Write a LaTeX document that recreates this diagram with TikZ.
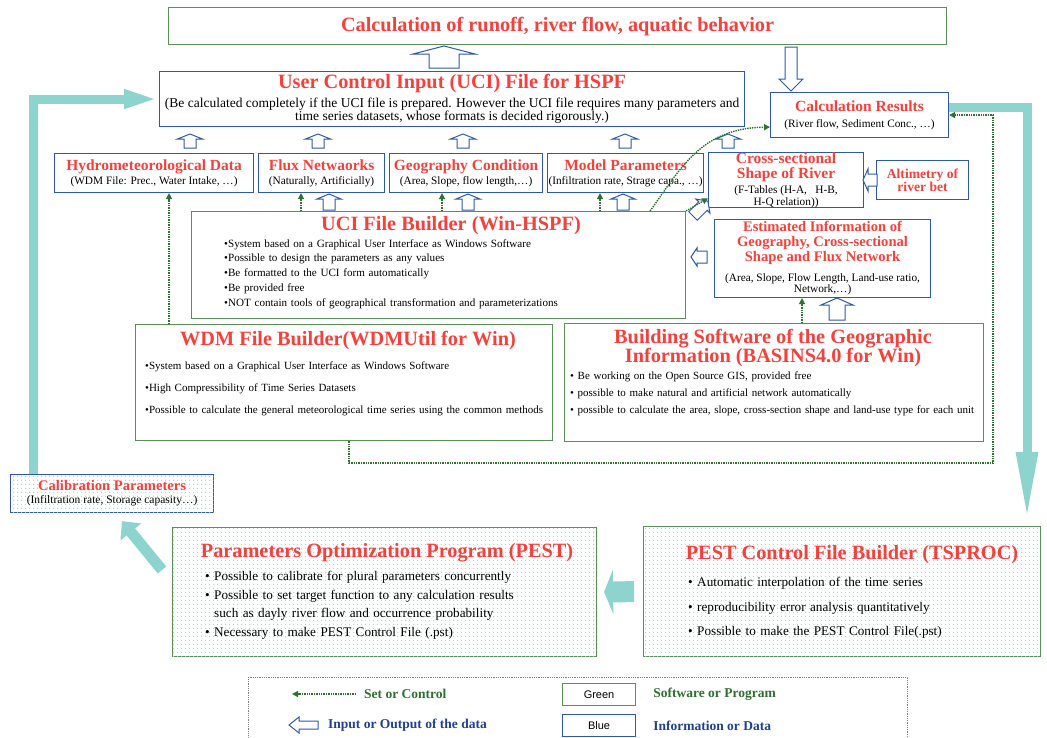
\documentclass[tikz,border=0pt]{standalone}
\usepackage{fontspec}
\setmainfont{Liberation Serif}
\newfontfamily\sansf{Liberation Sans}
\usetikzlibrary{arrows.meta,patterns,patterns.meta,positioning}

\definecolor{tred}{HTML}{F5413A}
\definecolor{bblue}{HTML}{2D5AA8}
\definecolor{bgreen}{HTML}{5A8F55}
\definecolor{dgreen}{HTML}{2E7030}
\definecolor{teal1}{HTML}{8DD4CF}
\definecolor{dotc}{HTML}{9CD8D2}
\definecolor{lblue}{HTML}{1F3F8F}

\newcommand{\ttlL}{\fontsize{20.3}{19}\selectfont\bfseries\color{tred}}
\newcommand{\ttlM}{\fontsize{15.5}{14.5}\selectfont\bfseries\color{tred}}
\newcommand{\subM}{\fontsize{13.5}{13.5}\selectfont}
\newcommand{\subS}{\fontsize{11.3}{11}\selectfont}

% hollow block arrow: tail, angle, length, shaft half, head half, head length
\newcommand{\blockarrow}[6]{%
  \draw[hollow,shift={#1},rotate=#2] (0,-#4) -- ({#3-#6},-#4) -- ({#3-#6},-#5) -- (#3,0)
    -- ({#3-#6},#5) -- ({#3-#6},#4) -- (0,#4) -- cycle;}

\tikzdeclarepattern{name=tdots, type=uncolored,
  bottom left={(0pt,0pt)}, top right={(4pt,4pt)}, tile size={(4pt,4pt)},
  code={\fill (2pt,2pt) circle (0.75pt);}}

\tikzset{
  bbox/.style={draw=bblue, line width=1.1pt, fill=white, anchor=north west, align=center, inner sep=1pt},
  gbox/.style={draw=bgreen, line width=1.1pt, fill=white, anchor=north west, align=center, inner sep=1pt},
  dotbox/.style={postaction={pattern=tdots, pattern color=dotc}},
  hollow/.style={draw=bblue, line width=1pt, fill=white, line join=miter},
  ctrl/.style={draw=dgreen, line width=1.4pt, densely dotted, -{Triangle[length=6pt,width=6pt]}},
  flow/.style={draw=teal1, line width=9pt, line join=miter},
  lst/.style={anchor=north west, align=left, inner sep=0pt, text width=470pt},
  legtxt/.style={anchor=west, inner sep=0pt, font=\fontsize{13.5}{14}\selectfont\bfseries},
}

\begin{document}
\begin{tikzpicture}[x=1pt,y=-1pt]
\useasboundingbox (0,0) rectangle (1047,737);

% top rows
\node[gbox, minimum width=778pt, minimum height=37pt] (runoff) at (168,7)
  {\ttlL Calculation of runoff, river flow, aquatic behavior};
\node[bbox, minimum width=585pt, minimum height=55pt, font=\fontsize{13.5}{13.5}\selectfont] (uci) at (159,71)
  {\ttlL User Control Input (UCI) File for HSPF\\[4pt]
   \subM (Be calculated completely if the UCI file is prepared. However the UCI file requires many parameters and\\
   \subM time series datasets, whose formats is decided rigorously.)};
\node[bbox, minimum width=178pt, minimum height=45pt] (calc) at (770,92)
  {\ttlM Calculation Results\\[4pt] \subS (River flow, Sediment Conc., …)};

\node[bbox, minimum width=199pt, minimum height=39pt] (hydro) at (54,153)
  {\ttlM Hydrometeorological Data\\[2pt] \subS (WDM File: Prec., Water Intake, …)};
\node[bbox, minimum width=126pt, minimum height=39pt] (flux) at (258,153)
  {\ttlM Flux Netwaorks\\[2pt] \subS (Naturally, Artificially)};
\node[bbox, minimum width=153pt, minimum height=39pt] (geo) at (389,153)
  {\ttlM Geography Condition\\[2pt] \subS (Area, Slope, flow length,…)};
\node[bbox, minimum width=156pt, minimum height=39pt] (model) at (547,153)
  {\ttlM Model Parameters\\[2pt] \subS (Infiltration rate, Strage capa., …)};
\node[bbox, minimum width=155pt, minimum height=54pt, inner sep=0pt, font=\fontsize{15.5}{15}\selectfont] (cross) at (708,152)
  {\ttlM Cross-sectional\\ \ttlM Shape of River\\ \subS (F-Tables (H-A,~~ H-B,\\[-3pt] \subS H-Q relation))};
\node[bbox, minimum width=92pt, minimum height=39pt] (alti) at (876,160)
  {\fontsize{13.6}{11}\selectfont\bfseries\color{tred} Altimetry of\\ \fontsize{13.6}{11}\selectfont\bfseries\color{tred} river bet};
\node[bbox, minimum width=216pt, minimum height=78pt, inner sep=0pt, font=\fontsize{14.6}{15}\selectfont] (est) at (714,219)
  {\bfseries\color{tred} Estimated Information of\\
   \bfseries\color{tred} Geography, Cross-sectional\\
   \bfseries\color{tred} Shape and Flux Network\\[5pt]
   \fontsize{11.3}{10}\selectfont (Area, Slope, Flow Length, Land-use ratio,\\[-4pt] \fontsize{11.3}{10}\selectfont Network,…)};

% software boxes
\node[gbox, minimum width=494pt, minimum height=107pt] (ucib) at (191,211) {};
\node[inner sep=0pt] (ucibt) at (451,226) {\ttlL UCI File Builder (Win-HSPF)};
\node[lst, font=\fontsize{11.1}{14.8}\selectfont] (ucibl) at (224,239)
  {•System based on a Graphical User Interface as Windows Software\\
   •Possible to design the parameters as any values\\
   •Be formatted to the UCI form automatically\\
   •Be provided free\\
   •NOT contain tools of geographical transformation and parameterizations};

\node[gbox, minimum width=417pt, minimum height=116pt] (wdm) at (135,324) {};
\node[inner sep=0pt] (wdmt) at (348,341) {\ttlL WDM File Builder(WDMUtil for Win)};
\node[lst, font=\fontsize{11}{22}\selectfont] (wdml) at (145,362)
  {•System based on a Graphical User Interface as Windows Software\\
   •High Compressibility of Time Series Datasets\\
   •Possible to calculate the general meteorological time series using the common methods};

\node[gbox, minimum width=419pt, minimum height=118pt] (bsw) at (564,323) {};
\node[inner sep=0pt, align=center] (bswt) at (773,348)
  {\ttlL Building Software of the Geographic\\ \ttlL Information (BASINS4.0 for Win)};
\node[lst, font=\fontsize{11}{17}\selectfont] (bswl) at (570,372)
  {• Be working on the Open Source GIS, provided free\\
   • possible to make natural and artificial network automatically\\
   • possible to calculate the area, slope, cross-section shape and land-use type for each unit};

% PEST boxes
\node[bbox, dotbox, minimum width=203pt, minimum height=38pt] (calib) at (10,474)
  {\fontsize{14.6}{14}\selectfont\bfseries\color{tred} Calibration Parameters\\[1pt]
   \fontsize{11.5}{11}\selectfont (Infiltration rate, Storage capasity…)};
\node[gbox, dotbox, minimum width=424pt, minimum height=129pt] (pest) at (172,527) {};
\node[inner sep=0pt] (pestt) at (387,553) {\ttlL Parameters Optimization Program (PEST)};
\node[lst, font=\fontsize{13.2}{18.7}\selectfont] (pestl) at (205,571)
  {• Possible to calibrate for plural parameters concurrently\\
   • Possible to set target function to any calculation results\\
   \hspace*{9pt}such as dayly river flow and occurrence probability\\
   • Necessary to make PEST Control File (.pst)};
\node[gbox, dotbox, minimum width=397pt, minimum height=130pt] (tspc) at (643,526) {};
\node[inner sep=0pt] (tspct) at (852,555) {\ttlL PEST Control File Builder (TSPROC)};
\node[lst, font=\fontsize{13.2}{24.5}\selectfont] (tspcl) at (688,577)
  {• Automatic interpolation of the time series\\
   • reproducibility error analysis quantitatively\\
   • Possible to make the PEST Control File(.pst)};

% hollow data arrows
\blockarrow{(444,68)}{90}{22}{15}{31}{8}
\blockarrow{(791,47)}{270}{44}{6}{12}{12}
\foreach \ax in {190,318,463,625,728}
  \blockarrow{(\ax,148)}{90}{14}{6}{12.5}{5};
\foreach \ax in {329,468,623}
  \blockarrow{(\ax,210)}{90}{16}{6}{12}{5};
\blockarrow{(707,257)}{180}{16}{6}{9}{6}
\blockarrow{(693,216)}{45}{21}{6}{10}{7}
\blockarrow{(877,180)}{180}{14}{6}{11}{5}
\blockarrow{(837,320)}{90}{22}{8}{16}{7}

% set or control
\draw[ctrl] ([xshift=34pt]wdm.north west) -- ([xshift=34pt]wdm.north west |- hydro.south);
\draw[ctrl] ([xshift=110pt]ucib.north west) -- ([xshift=110pt]ucib.north west |- flux.south);
\draw[ctrl] ([xshift=251pt]ucib.north west) -- ([xshift=251pt]ucib.north west |- geo.south);
\draw[ctrl] ([xshift=409pt]ucib.north west) -- ([xshift=409pt]ucib.north west |- model.south);
\draw[ctrl] ([xshift=459pt]ucib.north west) .. controls (680,170) and (700,128) .. ([yshift=11pt]calc.south west);
\draw[ctrl] (ucib.north east) -- ([yshift=10pt]cross.south west);
\draw[ctrl] ([xshift=238pt]bsw.north west) -- ([xshift=238pt]bsw.north west |- est.south);
\coordinate (loopc) at (993,463);
\draw[ctrl] ([xshift=214pt]wdm.south west) |- (loopc) |- (calc.east);

% calibration loop
\coordinate (tdown) at (1027,520);
\draw[flow, -{Triangle[length=68pt,width=20pt]}] ([yshift=8pt]calc.east) -| (tdown);
\draw[flow, -{Triangle[length=35pt,width=17pt]}] ([xshift=23pt]calib.north west) |- (uci.west);
\draw[draw=teal1, line width=21pt, -{Triangle[length=9pt,width=44pt]}, shorten <=9pt, shorten >=7pt] (tspc.west) -- (pest.east);
\coordinate (pdiag) at (162,570);
\draw[draw=teal1, line width=11pt, -{Triangle[length=14pt,width=26pt]}] (pdiag) -- ([xshift=112pt,yshift=-8pt]calib.south west);

% legend
\node[draw=gray, densely dotted, line width=0.8pt, minimum width=659pt, minimum height=70pt, anchor=north west] (legend) at (248,677) {};
\coordinate (k1a) at (356,694);
\coordinate (k1b) at (292,694);
\draw[ctrl] (k1a) -- (k1b);
\node[legtxt, text=dgreen, right=8pt of k1a] (k1t) {Set or Control};
\blockarrow{(318,725)}{180}{29}{4}{8}{10}
\node[legtxt, text=lblue] (k2t) at (328,725) {Input or Output of the data};
\node[gbox, minimum width=73pt, minimum height=22pt, font=\sansf\fontsize{11}{12}\selectfont] (kgreen) at (562,683) {Green};
\node[legtxt, text=dgreen, right=17pt of kgreen] (kgreent) {Software or Program};
\node[bbox, minimum width=73pt, minimum height=22pt, font=\sansf\fontsize{11}{12}\selectfont] (kblue) at (562,714) {Blue};
\node[legtxt, text=lblue, right=17pt of kblue] (kbluet) {Information or Data};
\end{tikzpicture}
\end{document}
